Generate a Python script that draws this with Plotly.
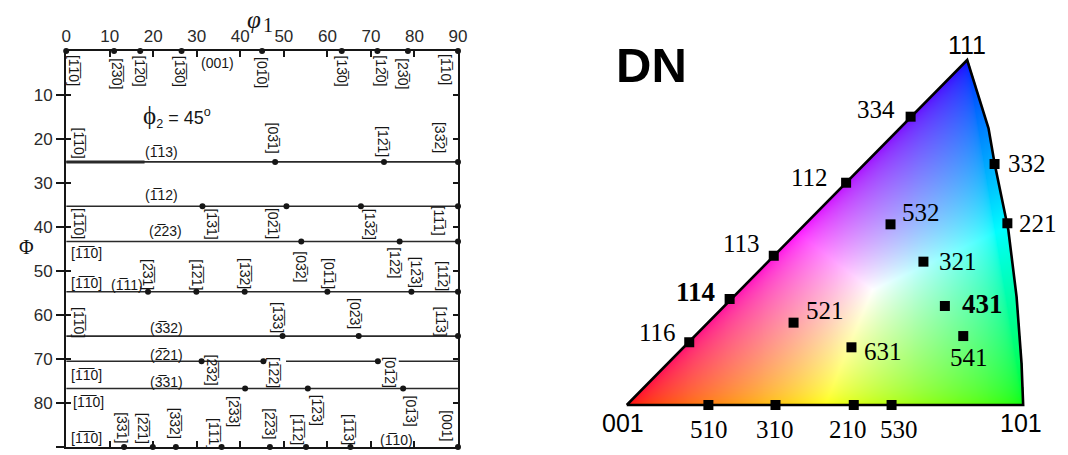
import base64
import struct
import zlib

import numpy as np
import plotly.graph_objects as go

# ---------------------------------------------------------------------------
# Left panel: phi2 = 45 deg ODF section (phi1 across, Phi down)
# ---------------------------------------------------------------------------
phi1_ticks = [0, 10, 20, 30, 40, 50, 60, 70, 80, 90]
Phi_ticks = [10, 20, 30, 40, 50, 60, 70, 80, 90]

# Phi of the (hkl) fibres drawn as horizontal lines
section_Phi = [25.2, 35.3, 43.3, 54.7, 64.8, 70.5, 76.7]

# phi1 of the marked orientations along each fibre
dots_Phi0 = [0, 11.0, 17.0, 26.5, 45.0, 63.3, 71.5, 78.5, 90]
dots_113 = [48.0, 73.0, 90]
dots_112 = [31.3, 50.6, 67.7, 90]
dots_223 = [54.0, 76.6, 90]
dots_111 = [18.8, 29.9, 41.0, 60.0, 79.3, 90]
dots_332 = [49.7, 67.2, 90]
dots_221 = [31.1, 45.3, 71.6]
dots_331 = [41.1, 55.5, 77.4]
dots_110 = [13.3, 19.9, 25.2, 35.7, 46.8, 55.1, 65.3, 90]

# the (-221) line is interrupted where labels cross it
line_221_x = [0, 45.3, None, 50.5, 71.6, None, 76.4, 90]
# heavier stretch at the start of the (-113) line
thick_113_x = [0, 18.0]

# labels: text ("-" marks an overbar), phi1, Phi
plane_labels = [
    ("(001)", 34.7, 2.8), ("(-113)", 21.8, 22.9), ("(-112)", 21.8, 32.7),
    ("(-223)", 22.9, 41.0), ("(-111)", 13.9, 53.2), ("(-332)", 23.0, 63.0),
    ("(-221)", 23.0, 69.1), ("(-331)", 23.0, 75.2), ("(-110)", 75.9, 88.4),
    ("[-1-10]", 4.7, 46.0), ("[-1-10]", 4.7, 52.8), ("[-1-10]", 4.7, 73.6),
    ("[-1-10]", 5.2, 79.7), ("[-1-10]", 4.7, 88.0),
]
direction_labels = [
    ("[-1-10]", 1.8, 4.3), ("[-2-30]", 11.6, 5.2), ("[-1-20]", 16.9, 4.6),
    ("[-1-30]", 26.0, 4.6), ("[0-10]", 45.0, 4.8), ("[1-30]", 63.3, 4.6),
    ("[1-20]", 72.3, 4.6), ("[2-30]", 77.3, 5.2), ("[-110]", 87.2, 4.3),
    ("[-1-10]", 2.9, 21.0), ("[0-31]", 47.5, 19.9), ("[1-21]", 72.9, 20.6),
    ("[3-32]", 85.7, 19.6),
    ("[-1-10]", 2.9, 39.3), ("[-1-31]", 33.6, 39.3), ("[0-21]", 47.5, 39.3),
    ("[1-32]", 69.8, 39.3), ("[1-11]", 85.7, 38.6),
    ("[-2-31]", 18.8, 50.7), ("[-1-21]", 30.0, 50.9), ("[-1-32]", 41.1, 50.5),
    ("[0-32]", 54.0, 49.0), ("[0-11]", 60.4, 50.5), ("[1-22]", 75.5, 48.2),
    ("[1-23]", 80.4, 50.2), ("[1-12]", 86.5, 51.1),
    ("[-1-10]", 2.9, 61.8), ("[-1-33]", 48.7, 60.5), ("[0-23]", 66.4, 59.6),
    ("[1-13]", 86.1, 61.5),
    ("[-2-32]", 33.6, 72.5), ("[-1-22]", 47.9, 73.1), ("[0-12]", 74.4, 72.9),
    ("[-2-33]", 38.5, 82.0), ("[-1-23]", 57.7, 81.6), ("[0-13]", 79.3, 81.8),
    ("[-3-31]", 12.8, 85.7), ("[-2-21]", 17.7, 85.7), ("[-3-32]", 24.9, 84.6),
    ("[-1-11]", 33.9, 87.0), ("[-2-23]", 46.8, 84.8), ("[-1-12]", 53.2, 86.1),
    ("[-1-13]", 64.9, 86.1), ("[001]", 87.6, 85.2),
]

# ---------------------------------------------------------------------------
# Right panel: inverse pole figure key (stereographic units)
# ---------------------------------------------------------------------------
corner_names = ["001", "101", "111"]
corner_x = [0.0, 0.4142, 0.3557]
corner_y = [0.0, 0.0, 0.3557]

# curved 101 -> 111 boundary
edge_x = [0.4142, 0.4125, 0.4073, 0.3987, 0.3843, 0.3780, 0.3557]
edge_y = [0.0, 0.043, 0.1117, 0.1804, 0.2492, 0.2853, 0.3557]

pole_names = ["334", "112", "113", "114", "116", "332", "221", "532", "321",
              "431", "541", "521", "631", "510", "310", "210", "530"]
pole_x = [0.2966, 0.2292, 0.1536, 0.1075, 0.0653, 0.3843, 0.3977, 0.2756,
          0.3100, 0.3324, 0.3516, 0.1743, 0.2348, 0.0853, 0.1554, 0.2372,
          0.2767]
pole_y = [0.2973, 0.2292, 0.1539, 0.1093, 0.0647, 0.2485, 0.1874, 0.1863,
          0.1478, 0.1021, 0.0711, 0.0849, 0.0595, 0.0, 0.0, 0.0, 0.0]
pole_bold = ["114", "431"]

# label offsets from the pole, in pixels (right, up)
pole_dx = [-35, -37, -32, -34, -32, 32, 31, 30, 35, 38, 6, 31, 32, 1, 0, -6, 7]
pole_dy = [7, 5, 12, 7, 10, 1, 0, 12, 0, 2, -21, 12, -4, -24, -24, -24, -24]
corner_dx = [-4, -2, 0]
corner_dy = [-18, -18, 15]

W, H = 1068, 455
INK = "#161616"
SANS = "Liberation Sans, DejaVu Sans, Arial, sans-serif"
SERIF = "Liberation Serif, DejaVu Serif, Times New Roman, serif"


def miller(s):
    out = ""
    i = 0
    while i < len(s):
        if s[i] == "-":
            out += s[i + 1] + "\u0305"
            i += 2
        else:
            out += s[i]
            i += 1
    return out


def note(x, y, text, xref, yref, font, **kw):
    return dict(x=x, y=y, xref=xref, yref=yref, text=text, showarrow=False,
                xanchor="center", yanchor="middle", font=font, **kw)


fig = go.Figure()

# fibre lines
for phi in section_Phi:
    xs = line_221_x if phi == 70.5 else [0, 90]
    fig.add_trace(go.Scatter(x=xs, y=[phi] * len(xs), mode="lines",
                             line=dict(color="#2a2a2a", width=1.6),
                             hoverinfo="skip", xaxis="x", yaxis="y"))
fig.add_trace(go.Scatter(x=thick_113_x, y=[section_Phi[0]] * 2, mode="lines",
                         line=dict(color="#2a2a2a", width=3),
                         hoverinfo="skip", xaxis="x", yaxis="y"))

dot_rows = [(0, dots_Phi0), (section_Phi[0], dots_113), (section_Phi[1], dots_112),
            (section_Phi[2], dots_223), (section_Phi[3], dots_111),
            (section_Phi[4], dots_332), (section_Phi[5], dots_221),
            (section_Phi[6], dots_331), (90, dots_110)]
dx_all, dy_all = [], []
for phi, xs in dot_rows:
    dx_all += xs
    dy_all += [phi] * len(xs)
fig.add_trace(go.Scatter(x=dx_all, y=dy_all, mode="markers",
                         marker=dict(color=INK, size=6),
                         cliponaxis=False, hoverinfo="skip",
                         xaxis="x", yaxis="y"))

# invisible trace so the outer tick axis is drawn
fig.add_trace(go.Scatter(x=[45], y=[45], mode="markers",
                         marker=dict(opacity=0), hoverinfo="skip",
                         xaxis="x", yaxis="y2"))

label_font = dict(family=SANS, size=14, color=INK)
annotations = []
for text, x, y in plane_labels:
    annotations.append(note(x, y, miller(text), "x", "y", label_font))
for text, x, y in direction_labels:
    annotations.append(note(x, y, miller(text), "x", "y", label_font,
                            textangle=90))

annotations.append(note(
    25.4, 14.9,
    ("<span style='font-family:Liberation Serif;font-size:25px'>\u03d5</span>"
     "<sub>2</sub> = 45<sup>o</sup>"),
    "x", "y", dict(family=SANS, size=18, color=INK)))

# axis titles
annotations.append(note(252 / W, 1 - 20 / H, "<i>\u03c6</i>", "paper", "paper",
                        dict(family=SERIF, size=25, color=INK)))
annotations.append(note(266 / W, 1 - 25 / H, "1", "paper", "paper",
                        dict(family=SERIF, size=20, color=INK)))
annotations.append(note(22 / W, 1 - 247 / H, "\u03a6", "paper", "paper",
                        dict(family=SERIF, size=20, color=INK)))

# ---------------------------------------------------------------------------
# IPF colour key rendered to a PNG
# ---------------------------------------------------------------------------
PX = 969.8  # pixels per stereographic unit
nx = int(np.ceil(corner_x[1] * PX)) + 2
ny = int(np.ceil(corner_y[2] * PX)) + 2
ymax_img = corner_y[2] + 1 / PX
X = (np.arange(nx) + 0.5) / PX
Y = ymax_img - (np.arange(ny) + 0.5) / PX
GX, GY = np.meshgrid(X, Y)

bx, cx, cy = corner_x[1], corner_x[2], corner_y[2]
wc = GY / cy
wb = (GX - wc * cx) / bx
wa = 1 - wb - wc
w = np.clip(np.stack([wa, wb, wc], axis=-1), 0, None)
rgb = np.sqrt(w / np.maximum(w.max(axis=-1, keepdims=True), 1e-9))
xr = np.interp(GY, edge_y, edge_x)
inside = (GY >= -0.5 / PX) & (GX >= GY - 0.5 / PX) & (GX <= xr + 0.5 / PX)
img = np.zeros((ny, nx, 4), dtype=np.uint8)
img[..., :3] = (rgb * 255).round().astype(np.uint8)
img[..., 3] = np.where(inside, 255, 0)


def to_png(a):
    h, w_, _ = a.shape
    raw = b"".join(b"\x00" + a[i].tobytes() for i in range(h))

    def chunk(tag, data):
        c = struct.pack(">I", len(data)) + tag + data
        return c + struct.pack(">I", zlib.crc32(tag + data) & 0xFFFFFFFF)

    return (b"\x89PNG\r\n\x1a\n"
            + chunk(b"IHDR", struct.pack(">IIBBBBB", w_, h, 8, 6, 0, 0, 0))
            + chunk(b"IDAT", zlib.compress(raw, 9))
            + chunk(b"IEND", b""))


png_uri = "data:image/png;base64," + base64.b64encode(to_png(img)).decode()

# triangle outline
outline_x = [corner_x[0]] + edge_x + [corner_x[0]]
outline_y = [corner_y[0]] + edge_y + [corner_y[0]]
fig.add_trace(go.Scatter(x=outline_x, y=outline_y, mode="lines",
                         line=dict(color="black", width=2.6),
                         hoverinfo="skip", xaxis="x3", yaxis="y3"))
fig.add_trace(go.Scatter(x=pole_x, y=pole_y, mode="markers",
                         marker=dict(symbol="square", size=10, color="black"),
                         cliponaxis=False, hoverinfo="skip",
                         xaxis="x3", yaxis="y3"))

for name, x, y, dx, dy in zip(pole_names, pole_x, pole_y, pole_dx, pole_dy):
    bold = name in pole_bold
    annotations.append(note(
        x, y, f"<b>{name}</b>" if bold else name, "x3", "y3",
        dict(family=SERIF, size=27 if bold else 25, color="black"),
        xshift=dx, yshift=dy))
for name, x, y, dx, dy in zip(corner_names, corner_x, corner_y, corner_dx, corner_dy):
    annotations.append(note(x, y, name, "x3", "y3",
                            dict(family=SANS, size=25, color="black"),
                            xshift=dx, yshift=dy))

annotations.append(note(655 / W, 1 - 65 / H, "<b>DN</b>", "paper", "paper",
                        dict(family=SANS, size=49, color="black")))

# ---------------------------------------------------------------------------
# layout
# ---------------------------------------------------------------------------
left_dom = [62 / W, 459 / W]
left_ydom = [1 - 447 / H, 1 - 51 / H]
tri_x0 = 630
tri_y0 = 405
x3_range = [(600 - tri_x0) / PX, (W - tri_x0) / PX]
y3_range = [(tri_y0 - H) / PX, tri_y0 / PX]

tick_font = dict(family=SANS, size=17, color="#2a2a2a")
fig.update_layout(
    width=W, height=H, margin=dict(l=0, r=0, t=0, b=0),
    paper_bgcolor="white", plot_bgcolor="white", showlegend=False,
    xaxis=dict(domain=left_dom, range=[0, 90], side="top", anchor="y",
               tickvals=phi1_ticks, ticks="inside", ticklen=6, tickwidth=1.5,
               tickcolor=INK, showline=True, linewidth=2, linecolor=INK,
               mirror="ticks", showgrid=False, zeroline=False,
               tickfont=tick_font),
    yaxis=dict(domain=left_ydom, range=[90, 0], anchor="x",
               tickvals=Phi_ticks[:-1], ticks="inside", ticklen=5,
               tickwidth=1.5, tickcolor=INK, showticklabels=False,
               showline=True, linewidth=2, linecolor=INK, mirror="ticks",
               showgrid=False, zeroline=False),
    yaxis2=dict(overlaying="y", side="left", anchor="x", range=[90, 0],
                tickvals=Phi_ticks, ticks="outside", ticklen=9, tickwidth=1.5,
                tickcolor=INK, showline=False, showgrid=False, zeroline=False,
                tickfont=tick_font),
    xaxis3=dict(domain=[600 / W, 1], range=x3_range, anchor="y3",
                visible=False, showgrid=False, zeroline=False),
    yaxis3=dict(domain=[0, 1], range=y3_range, anchor="x3",
                visible=False, showgrid=False, zeroline=False),
    images=[dict(source=png_uri, xref="x3", yref="y3", x=0, y=ymax_img,
                 sizex=nx / PX, sizey=ny / PX, sizing="stretch",
                 xanchor="left", yanchor="top", layer="below")],
    annotations=annotations,
)

fig.write_html("out.html")
